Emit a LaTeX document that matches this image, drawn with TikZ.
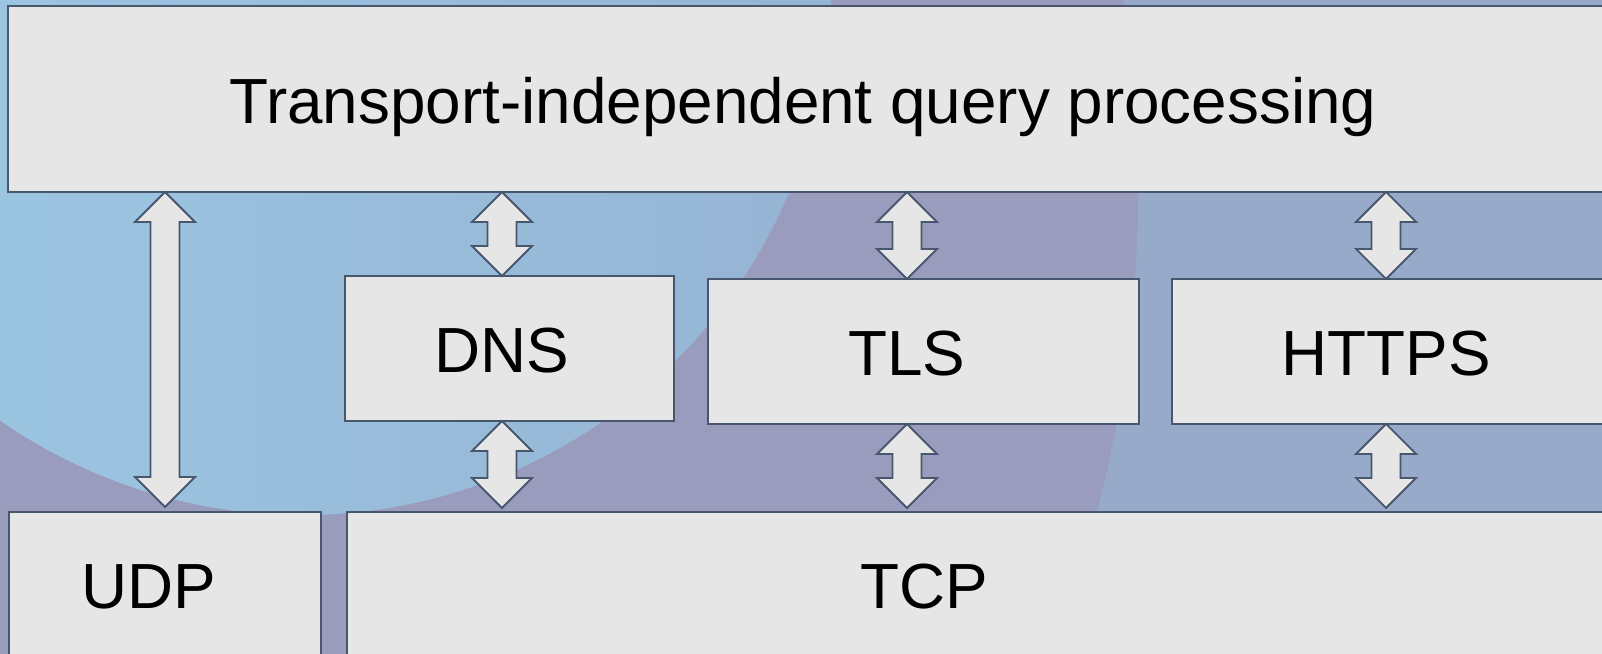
\documentclass[tikz,border=0pt]{standalone}
\usepackage{fontspec}
\setmainfont{Liberation Sans}
\usetikzlibrary{calc}

\definecolor{boxgrey}{HTML}{E6E6E6}
\definecolor{linecol}{HTML}{48576E}
\definecolor{bgright}{HTML}{97AACA}
\definecolor{bgpurple}{HTML}{9A9CBD}
\definecolor{bglight}{HTML}{9DC9E5}
\definecolor{bgmid}{HTML}{96B4D4}

% block arrow with two heads, from #1 (upper end) down to #2
\newcommand{\Updown}[2]{%
  \draw[dblarrow] let \p1=(#1), \p2=(#2) in
    (\x1,\y1) -- ({\x1+30pt},{\y1-30pt}) -- ({\x1+14.5pt},{\y1-30pt})
    -- ({\x1+14.5pt},{\y2+30pt}) -- ({\x1+30pt},{\y2+30pt}) -- (\x1,\y2)
    -- ({\x1-30pt},{\y2+30pt}) -- ({\x1-14.5pt},{\y2+30pt})
    -- ({\x1-14.5pt},{\y1-30pt}) -- ({\x1-30pt},{\y1-30pt}) -- cycle;}

\begin{document}
\begin{tikzpicture}[x=1pt,y=1pt,
    box/.style={draw=linecol, fill=boxgrey, line width=1.8pt, anchor=north west,
      inner sep=0pt, outer sep=0pt},
    lbl/.style={anchor=base, font=\fontsize{63.8}{76}\selectfont},
    dblarrow/.style={draw=linecol, fill=boxgrey, line width=1.8pt}]
	\useasboundingbox (0,0) rectangle (1602,653);
	\clip (0,0) rectangle (1602,653);
	% background
	\fill[bgright] (0,0) rectangle (1602,653);
	\fill[bgpurple] (-131,463) circle (1269);
	\shade[left color=bglight, right color=bgmid] (302,667) circle (529);

		\node[box, minimum width=1620pt, minimum height=186pt] (topbox) at (8,647) {};
		\node[box, minimum width=329pt, minimum height=145pt] (dnsbox) at (345,377) {};
		\node[box, minimum width=431pt, minimum height=145pt] (tlsbox) at (708,374) {};
		\node[box, minimum width=500pt, minimum height=145pt] (httpsbox) at (1172,374) {};
		\node[box, minimum width=312pt, minimum height=200pt] (udpbox) at (9,141) {};
		\node[box, minimum width=1300pt, minimum height=200pt] (tcpbox) at (347,141) {};

		\node[lbl] (title) at (803,529.5) {Transport-independent query processing};
		\node[lbl] (dns) at (502,280) {DNS};
		\node[lbl] (tls) at (907,277) {TLS};
		\node[lbl] (https) at (1386,277) {HTTPS};
		\node[lbl] (udp) at (149,44.5) {UDP};
		\node[lbl] (tcp) at (924,44.5) {TCP};

		\Updown{topbox.south -| udpbox}{$(udpbox.north)+(0,5)$}
		\Updown{topbox.south -| dns}{dnsbox.north -| dns}
		\Updown{topbox.south -| tls}{tlsbox.north -| tls}
		\Updown{topbox.south -| https}{httpsbox.north -| https}
		\Updown{dnsbox.south -| dns}{$(tcpbox.north -| dns)+(0,4)$}
		\Updown{tlsbox.south -| tls}{$(tcpbox.north -| tls)+(0,4)$}
		\Updown{httpsbox.south -| https}{$(tcpbox.north -| https)+(0,4)$}
	\end{tikzpicture}
\end{document}
